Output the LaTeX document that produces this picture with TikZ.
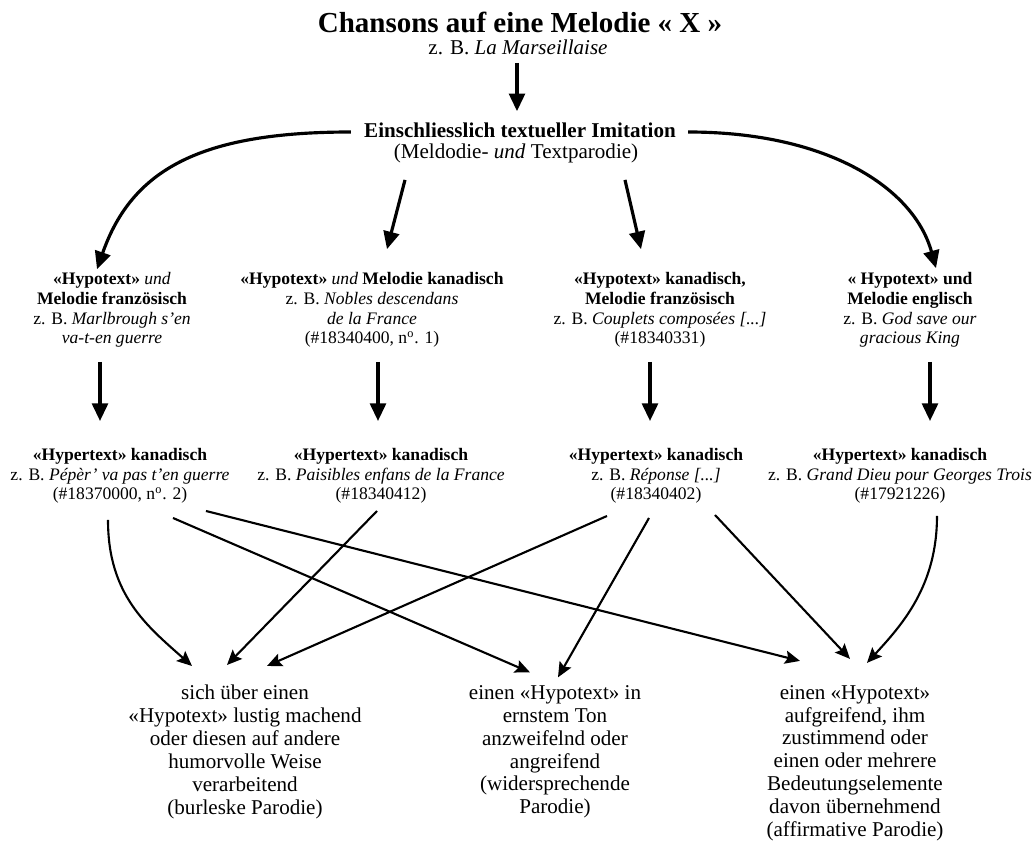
\documentclass[tikz,border=0pt]{standalone}
\usepackage{fontspec}
\setmainfont{Liberation Serif}
\usetikzlibrary{arrows.meta,calc}

\begin{document}
\begin{tikzpicture}[x=0.02cm,y=-0.02cm,
	txt/.style={align=center,inner sep=0pt,font=\fontsize{10}{11.2}\selectfont},
	res/.style={align=center,inner sep=0pt,font=\fontsize{12}{13}\selectfont},
	bigarrow/.style={line width=1.8pt,-{Triangle[length=10pt,width=9pt]}},
	thinarrow/.style={line width=1.2pt,-{Stealth[length=8.5pt,width=7.5pt,inset=1.5pt]}}]
	\useasboundingbox (0,0) rectangle (1036,841);

	\node [inner sep=0pt,font=\fontsize{16.5}{18}\selectfont\bfseries] (title) at (520,22) {Chansons auf eine Melodie « X »};
	\node [res] (bsp) at (518,47) {z. B. \textit{La Marseillaise}};
	\node [res,font=\fontsize{12}{13}\selectfont\bfseries] (ein) at (520,130) {Einschliesslich textueller Imitation};
	\node [res] (par) at (516,153) {(Meldodie- \textit{und} Textparodie)};

	\node [txt] (ho1) at (112,310) {\textbf{«Hypotext»} \textit{und}\\ \textbf{Melodie französisch}\\ z. B. \textit{Marlbrough s'en}\\ \textit{va-t-en guerre}};
	\node [txt] (ho2) at (372,310) {\textbf{«Hypotext»} \textit{und} \textbf{Melodie kanadisch}\\ z. B. \textit{Nobles descendans}\\ \textit{de la France}\\ (\#18340400, n\textsuperscript{o}. 1)};
	\node [txt] (ho3) at (660,310) {\textbf{«Hypotext» kanadisch,}\\ \textbf{Melodie französisch}\\ z. B. \textit{Couplets composées [...]}\\ (\#18340331)};
	\node [txt] (ho4) at (910,310) {\textbf{« Hypotext» und}\\ \textbf{Melodie englisch}\\ z. B. \textit{God save our}\\ \textit{gracious King}};

	\node [txt] (hr1) at (120,476) {\textbf{«Hypertext» kanadisch}\\ z. B. \textit{Pépèr' va pas t'en guerre}\\ (\#18370000, n\textsuperscript{o}. 2)};
	\node [txt] (hr2) at (381,476) {\textbf{«Hypertext» kanadisch}\\ z. B. \textit{Paisibles enfans de la France}\\ (\#18340412)};
	\node [txt] (hr3) at (656,476) {\textbf{«Hypertext» kanadisch}\\ z. B. \textit{Réponse [...]}\\ (\#18340402)};
	\node [txt] (hr4) at (900,476) {\textbf{«Hypertext» kanadisch}\\ z. B. \textit{Grand Dieu pour Georges Trois}\\ (\#17921226)};

	\node [res] (bur) at (245,752) {sich über einen\\ «Hypotext» lustig machend\\ oder diesen auf andere\\ humorvolle Weise\\ verarbeitend\\ (burleske Parodie)};
	\node [res] (ern) at (555,752) {einen «Hypotext» in\\ ernstem Ton\\ anzweifelnd oder\\ angreifend\\ (widersprechende\\ Parodie)};
	\node [res] (aff) at (855,763) {einen «Hypotext»\\ aufgreifend, ihm\\ zustimmend oder\\ einen oder mehrere\\ Bedeutungselemente\\ davon übernehmend\\ (affirmative Parodie)};

	\draw [bigarrow] ($(bsp.south)+(-1,8)$) -- ($(ein.north)+(-3,-11)$);
	\draw [bigarrow] ($(ein.west)+(-13,2)$) .. controls +(-150,0) and +(35,-100) .. ($(ho1.north)+(-15,-3)$);
	\draw [bigarrow] ($(ein.east)+(12,2)$) .. controls +(140,0) and +(-22,-80) .. ($(ho4.north)+(26,-4)$);
	\draw [bigarrow] ($(par.south)+(-111,17)$) -- ($(ho2.north)+(15,-23)$);
	\draw [bigarrow] ($(par.south)+(109,17)$) -- ($(ho3.north)+(-19,-23)$);

	\draw [bigarrow] ($(ho1.south)+(-12,14)$) -- ($(hr1.north)+(-20,-27)$);
	\draw [bigarrow] ($(ho2.south)+(6,14)$) -- ($(hr2.north)+(-3,-27)$);
	\draw [bigarrow] ($(ho3.south)+(-10,14)$) -- ($(hr3.north)+(-6,-27)$);
	\draw [bigarrow] ($(ho4.south)+(20,14)$) -- ($(hr4.north)+(30,-27)$);

	\draw [thinarrow] ($(hr1.south)+(-12,16)$) .. controls +(0,75) and +(-45,-40) .. ($(bur.north)+(-53,-19)$);
	\draw [thinarrow] ($(hr2.south)+(-4,7)$) -- ($(bur.north)+(-18,-20)$);
	\draw [thinarrow] ($(hr3.south)+(-49,12)$) -- ($(bur.north)+(22,-19)$);
	\draw [thinarrow] ($(hr1.south)+(53,14)$) -- ($(ern.north)+(-25,-13)$);
	\draw [thinarrow] ($(hr3.south)+(-7,14)$) -- ($(ern.north)+(3,-8)$);
	\draw [thinarrow] ($(hr1.south)+(86,7)$) -- ($(aff.north)+(-55,-24)$);
	\draw [thinarrow] ($(hr3.south)+(59,11)$) -- ($(aff.north)+(-5,-26)$);
	\draw [thinarrow] ($(hr4.south)+(37,12)$) .. controls +(0,70) and +(35,-38) .. ($(aff.north)+(12,-22)$);

\end{tikzpicture}
\end{document}
